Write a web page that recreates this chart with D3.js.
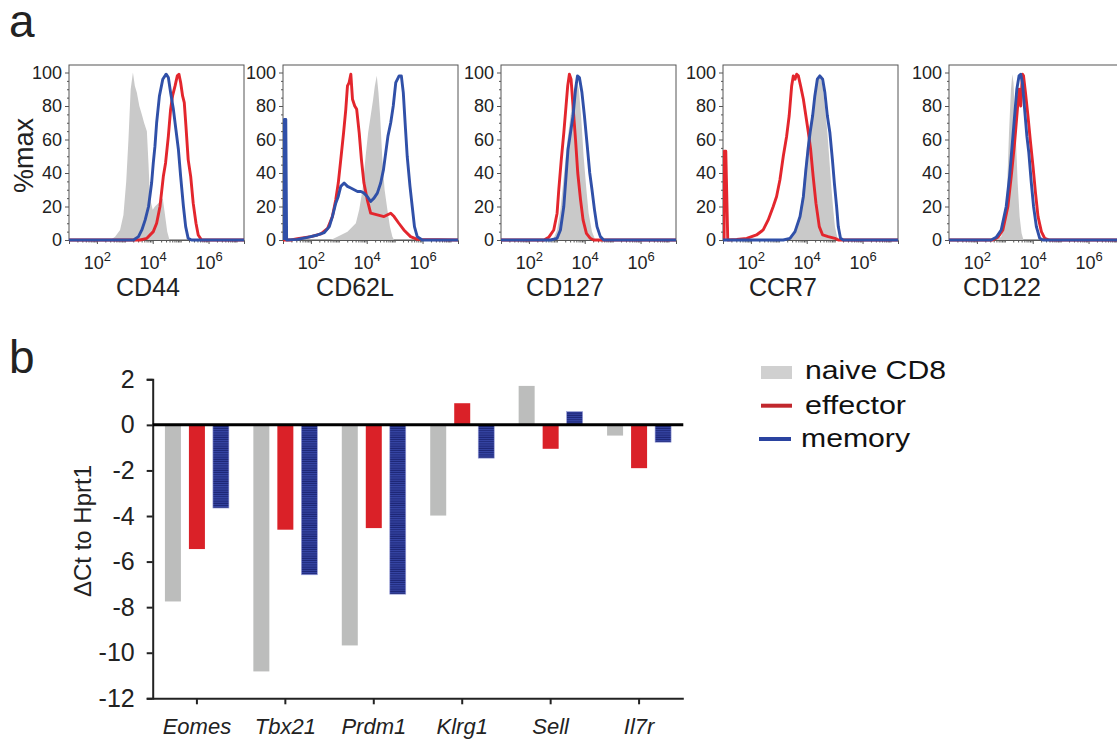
<!DOCTYPE html>
<html>
<head>
<meta charset="utf-8">
<script src="https://cdn.jsdelivr.net/npm/d3@7"></script>
<style>
  html, body { margin: 0; padding: 0; background: #fff; }
  svg { display: block; font-family: "Liberation Sans", Arial, sans-serif; }
</style>
</head>
<body>
<svg id="chart" width="1117" height="740"></svg>
<script>
// ---------------- DATA: panel a (flow histograms) ----------------
// each point: [log10 fluorescence intensity, % of max]
const markers = ["CD44", "CD62L", "CD127", "CCR7", "CD122"];
const histTickExponents = [2, 4, 6];
const histYTicks = [0, 20, 40, 60, 80, 100];

const cd44Naive = [[2.48,0],[2.65,2],[2.83,6],[2.95,15],[3.05,35],[3.13,60],[3.21,90],[3.29,100],[3.36,92],[3.43,88],[3.52,80],[3.61,75],[3.69,70],[3.79,65],[3.85,45],[3.90,25],[4.0,18],[4.08,20],[4.20,22],[4.36,25],[4.44,15],[4.52,5],[4.60,0]];
const cd44Effector = [[1.0,0],[3.55,0],[3.79,1],[4.02,5],[4.14,10],[4.26,20],[4.38,38],[4.46,46],[4.56,62],[4.64,78],[4.71,86],[4.80,92],[4.88,98],[4.94,99],[5.0,94],[5.07,86],[5.13,82],[5.19,68],[5.27,48],[5.36,38],[5.45,22],[5.55,10],[5.63,3],[5.75,0],[7.3,0]];
const cd44Memory = [[1.0,0],[3.31,0],[3.49,2],[3.61,6],[3.73,12],[3.85,20],[3.96,34],[4.02,46],[4.08,56],[4.14,70],[4.24,86],[4.36,96],[4.48,99],[4.56,97],[4.64,88],[4.74,78],[4.83,66],[4.92,54],[5.0,38],[5.10,20],[5.18,8],[5.27,1],[5.39,0],[7.3,0]];

const cd62lNaive = [[2.71,0],[2.95,2],[3.31,5],[3.61,10],[3.73,18],[3.85,30],[3.96,50],[4.05,64],[4.14,74],[4.23,84],[4.29,92],[4.36,98],[4.42,88],[4.48,74],[4.56,48],[4.64,30],[4.74,18],[4.83,8],[4.92,2],[4.98,0]];
const cd62lEffector = [[1.0,0],[1.29,0],[1.52,0.8],[2.0,2],[2.36,3.6],[2.6,7],[2.77,14],[2.89,24],[2.98,34],[3.07,48],[3.17,64],[3.25,78],[3.31,92],[3.37,94],[3.43,99],[3.49,84],[3.57,80],[3.64,78],[3.73,64],[3.81,48],[3.9,34],[4.02,24],[4.14,16],[4.38,15],[4.62,14],[4.86,16],[4.98,14],[5.15,10],[5.33,6],[5.57,2],[5.81,0.4],[7.3,0]];
const cd62lMemory = [[1.04,0],[1.05,72],[1.1,72],[1.13,0],[1.52,0.4],[1.88,1.6],[2.24,3],[2.48,4.4],[2.66,8],[2.77,14],[2.89,22],[2.98,26],[3.07,32],[3.19,34],[3.31,32],[3.43,31],[3.55,30],[3.67,29],[3.79,29],[3.9,28],[4.02,26],[4.14,23],[4.26,25],[4.38,28],[4.5,34],[4.6,42],[4.68,52],[4.76,62],[4.86,70],[4.95,80],[5.04,94],[5.16,98],[5.24,98],[5.31,88],[5.39,66],[5.45,50],[5.55,32],[5.63,20],[5.71,8],[5.81,2],[5.99,0],[7.3,0]];

const cd127Naive = [[2.66,0],[2.89,1],[3.01,6],[3.13,18],[3.25,38],[3.37,58],[3.49,74],[3.58,84],[3.67,92],[3.73,94],[3.79,90],[3.87,74],[3.96,50],[4.06,30],[4.14,16],[4.26,5],[4.38,0]];
const cd127Effector = [[1.0,0],[2.54,0],[2.71,1.6],[2.89,6],[3.01,16],[3.07,30],[3.16,48],[3.25,64],[3.33,80],[3.39,92],[3.45,99],[3.51,96],[3.58,80],[3.67,60],[3.75,40],[3.85,24],[3.94,12],[4.06,4],[4.2,1],[4.32,0],[7.3,0]];
const cd127Memory = [[1.0,0],[2.77,0],[3.01,1],[3.13,6],[3.25,20],[3.33,38],[3.4,54],[3.49,64],[3.58,74],[3.67,90],[3.74,98],[3.81,97],[3.9,88],[3.99,74],[4.08,58],[4.18,40],[4.26,30],[4.35,18],[4.44,8],[4.56,2],[4.68,0],[7.3,0]];

const ccr7Naive = [[3.28,0],[3.52,4],[3.70,12],[3.82,24],[3.94,44],[4.02,58],[4.12,68],[4.21,78],[4.29,88],[4.38,96],[4.47,98],[4.57,92],[4.65,80],[4.74,64],[4.81,48],[4.89,30],[4.95,18],[5.01,8],[5.09,2],[5.17,0]];
const ccr7Effector = [[1.04,0],[1.05,53],[1.1,53],[1.17,0],[1.49,0.4],[1.85,1],[2.2,3],[2.44,6],[2.62,12],[2.8,20],[2.92,26],[3.04,36],[3.16,50],[3.28,62],[3.37,74],[3.46,92],[3.52,98],[3.58,96],[3.64,99],[3.7,98],[3.78,92],[3.88,84],[3.97,74],[4.06,64],[4.14,54],[4.23,38],[4.33,22],[4.45,8],[4.57,3],[4.77,2],[5.01,1],[5.13,0],[7.3,0]];
const ccr7Memory = [[1.0,0],[3.16,0],[3.40,1],[3.58,5],[3.76,14],[3.88,26],[3.97,42],[4.06,56],[4.12,64],[4.21,74],[4.29,86],[4.38,96],[4.47,98],[4.57,96],[4.65,88],[4.74,74],[4.83,64],[4.92,48],[4.99,34],[5.07,20],[5.13,8],[5.21,1],[5.31,0],[7.3,0]];

const cd122Naive = [[2.69,0],[2.87,2],[2.99,10],[3.08,30],[3.15,64],[3.22,90],[3.27,99],[3.31,94],[3.39,64],[3.46,34],[3.53,14],[3.6,4],[3.67,0]];
const cd122Effector = [[1.0,0],[2.57,0],[2.75,1.6],[2.93,6],[3.11,20],[3.23,38],[3.35,58],[3.43,74],[3.51,90],[3.57,80],[3.63,99],[3.67,98],[3.74,88],[3.83,74],[3.91,60],[4.01,44],[4.10,28],[4.19,14],[4.31,5],[4.43,1],[4.6,0],[7.3,0]];
const cd122Memory = [[1.0,0],[2.51,0],[2.69,1.6],[2.87,6],[3.05,20],[3.17,38],[3.27,58],[3.35,74],[3.43,90],[3.51,98],[3.57,99],[3.63,94],[3.71,78],[3.79,62],[3.86,52],[3.95,34],[4.03,20],[4.13,8],[4.25,1],[4.37,0],[7.3,0]];

// ---------------- DATA: panel b (qPCR) ----------------
const genes = ["Eomes", "Tbx21", "Prdm1", "Klrg1", "Sell", "Il7r"];
const groups = ["naive CD8", "effector", "memory"];
const naiveCt = [-7.75, -10.82, -9.68, -3.98, 1.71, -0.47];
const effectorCt = [-5.45, -4.6, -4.53, 0.95, -1.05, -1.9];
const memoryCt = [-3.65, -6.58, -7.43, -1.46, 0.58, -0.76];
const ctTicks = [2, 0, -2, -4, -6, -8, -10, -12];

// ---------------- LAYOUT ----------------
const FONT = "Liberation Sans, Arial, sans-serif";
const svg = d3.select("#chart");
const COL = { gray: "#c9c9c9", red: "#e3262d", blue: "#3050a8",
              barGray: "#bcbdbc", barRed: "#da2128" };

const defs = svg.append("defs");
const pat = defs.append("pattern").attr("id", "stripes")
  .attr("patternUnits", "userSpaceOnUse").attr("width", 4).attr("height", 2.2);
pat.append("rect").attr("width", 4).attr("height", 2.2).attr("fill", "#3746a6");
pat.append("rect").attr("y", 1.2).attr("width", 4).attr("height", 1).attr("fill", "#1b2472");

// panel letters
svg.append("text").attr("x", 9).attr("y", 37).attr("font-size", 46).attr("fill", "#222").text("a");
svg.append("text").attr("x", 9).attr("y", 373).attr("font-size", 46).attr("fill", "#222").text("b");

// ---- panel a ----
const panelLeft = [69, 283, 501, 723, 949];
const labelCenter = [148, 355, 565, 783, 1002];
const pW = 175, yTop = 65;
const histData = [
  [cd44Naive, cd44Effector, cd44Memory],
  [cd62lNaive, cd62lEffector, cd62lMemory],
  [cd127Naive, cd127Effector, cd127Memory],
  [ccr7Naive, ccr7Effector, ccr7Memory],
  [cd122Naive, cd122Effector, cd122Memory]
];
const yH = d3.scaleLinear().domain([0, 100]).range([240, 72.5]);

markers.forEach((m, i) => {
  const g = svg.append("g").attr("transform", `translate(${panelLeft[i]},0)`);
  const x = d3.scaleLog().domain([Math.pow(10, 1.0), Math.pow(10, 7.27)]).range([0, pW]);
  const clipId = "clip" + i;
  defs.append("clipPath").attr("id", clipId).append("rect")
    .attr("x", panelLeft[i]).attr("y", yTop).attr("width", pW).attr("height", 240 - yTop + 2);
  const plot = svg.append("g").attr("clip-path", `url(#${clipId})`)
    .append("g").attr("transform", `translate(${panelLeft[i]},0)`);

  const [nv, ef, me] = histData[i];
  const area = d3.area().x(d => x(Math.pow(10, d[0]))).y0(yH(0)).y1(d => yH(d[1]));
  const line = d3.line().x(d => x(Math.pow(10, d[0]))).y(d => yH(d[1]));
  plot.append("path").datum(nv).attr("d", area).attr("fill", COL.gray);
  plot.append("path").datum(ef).attr("d", line).attr("fill", "none")
    .attr("stroke", COL.red).attr("stroke-width", 2.9).attr("stroke-linejoin", "round");
  plot.append("path").datum(me).attr("d", line).attr("fill", "none")
    .attr("stroke", COL.blue).attr("stroke-width", 2.9).attr("stroke-linejoin", "round");

  // frame
  g.append("rect").attr("x", 0).attr("y", yTop).attr("width", pW).attr("height", 240 - yTop)
    .attr("fill", "none").attr("stroke", "#555").attr("stroke-width", 1);

  // x axis: minor ticks
  const minor = [];
  for (let e = 1; e <= 7; e++) for (let k = 1; k <= 9; k++) {
    const v = k * Math.pow(10, e);
    if (v <= Math.pow(10, 7.27) && !(k === 1 && histTickExponents.includes(e))) minor.push(v);
  }
  g.append("g").attr("transform", "translate(0,240)")
    .call(d3.axisBottom(x).tickValues(minor).tickSize(2.5).tickFormat(""))
    .call(a => a.select(".domain").remove())
    .call(a => a.selectAll("line").attr("stroke", "#555"));
  const xa = g.append("g").attr("transform", "translate(0,240)")
    .call(d3.axisBottom(x).tickValues(histTickExponents.map(e => Math.pow(10, e))).tickSize(4).tickFormat(""))
    .call(a => a.select(".domain").attr("stroke", "#555"))
    .call(a => a.selectAll("line").attr("stroke", "#555"));
  xa.selectAll(".tick text").each(function(d) {
    const t = d3.select(this).attr("font-size", 18).attr("fill", "#222")
      .attr("font-family", FONT).attr("y", 29).attr("dy", 0);
    t.append("tspan").text("10");
    t.append("tspan").attr("dy", -8).attr("font-size", 13).text(String(Math.round(Math.log10(d))));
  });

  // y axis
  g.append("g")
    .call(d3.axisLeft(yH).tickValues(d3.range(0, 101, 5).filter(v => v % 20 !== 0)).tickSize(2).tickFormat(""))
    .call(a => a.select(".domain").remove())
    .call(a => a.selectAll("line").attr("stroke", "#555"));
  g.append("g")
    .call(d3.axisLeft(yH).tickValues(histYTicks).tickSize(4).tickPadding(3))
    .call(a => a.select(".domain").remove())
    .call(a => a.selectAll("line").attr("stroke", "#555"))
    .call(a => a.selectAll("text").attr("font-size", 18).attr("fill", "#222").attr("font-family", FONT));

  svg.append("text").attr("x", labelCenter[i]).attr("y", 296).attr("text-anchor", "middle")
    .attr("font-size", 25).attr("fill", "#222").text(m);
});

svg.append("text").attr("transform", "translate(33,155.5) rotate(-90)").attr("text-anchor", "middle")
  .attr("font-size", 27).attr("fill", "#222").text("%max");

// ---- panel b ----
const bx = d3.scaleBand().domain(genes).range([152.7, 683.3]).paddingInner(0).paddingOuter(0);
const sub = d3.scaleBand().domain(groups).range([-32, 32]).paddingInner(1 / 3).paddingOuter(0);
const by = d3.scaleLinear().domain([-12, 2]).range([698.3, 379.3]);

const seriesVals = [naiveCt, effectorCt, memoryCt];
const barFill = [COL.barGray, COL.barRed, "url(#stripes)"];
groups.forEach((gname, si) => {
  svg.append("g").selectAll("rect").data(genes.map((gene, gi) => ({ gene, v: seriesVals[si][gi] })))
    .join("rect")
    .attr("x", d => bx(d.gene) + bx.bandwidth() / 2 + sub(gname))
    .attr("width", sub.bandwidth())
    .attr("y", d => by(Math.max(0, d.v)))
    .attr("height", d => Math.abs(by(d.v) - by(0)))
    .attr("fill", barFill[si])
    .attr("stroke", si === 2 ? "#9aa0d8" : "none").attr("stroke-width", 0.6);
});

// y axis
svg.append("g").attr("transform", "translate(152.7,0)")
  .call(d3.axisLeft(by).tickValues(ctTicks).tickSize(6).tickPadding(12).tickFormat(d => String(d)))
  .call(a => a.select(".domain").attr("stroke", "#222").attr("stroke-width", 2))
  .call(a => a.selectAll("line").attr("stroke", "#222").attr("stroke-width", 2))
  .call(a => a.selectAll("text").attr("font-size", 25).attr("fill", "#222").attr("font-family", FONT));

// x axis
svg.append("g").attr("transform", "translate(0,698.3)")
  .call(d3.axisBottom(bx).tickSize(6).tickPadding(14).tickSizeOuter(0))
  .call(a => a.select(".domain").attr("stroke", "#222").attr("stroke-width", 2))
  .call(a => a.selectAll("line").attr("stroke", "#222").attr("stroke-width", 2))
  .call(a => a.selectAll("text").attr("font-size", 22).attr("font-style", "italic").attr("fill", "#222")
    .attr("font-family", FONT));

// zero line
svg.append("line").attr("x1", 152.7).attr("x2", 683.3).attr("y1", by(0)).attr("y2", by(0))
  .attr("stroke", "#000").attr("stroke-width", 3);

svg.append("text").attr("transform", "translate(91,531) rotate(-90)").attr("text-anchor", "middle")
  .attr("font-size", 24).attr("fill", "#222").text("ΔCt to Hprt1");

// legend
const lg = svg.append("g");
lg.append("rect").attr("x", 761).attr("y", 366).attr("width", 31).attr("height", 13).attr("fill", "#d0d0d0");
lg.append("line").attr("x1", 761).attr("x2", 792).attr("y1", 405.7).attr("y2", 405.7)
  .attr("stroke", "#c1272d").attr("stroke-width", 4);
lg.append("line").attr("x1", 759).attr("x2", 791).attr("y1", 439).attr("y2", 439)
  .attr("stroke", "#2a43a0").attr("stroke-width", 4);
const legendX = [805, 805, 801], legendY = [379, 414, 447], legendLen = [141, 101, 109];
groups.forEach((gname, i) => {
  lg.append("text").attr("x", legendX[i]).attr("y", legendY[i]).attr("font-size", 26)
    .attr("textLength", legendLen[i]).attr("lengthAdjust", "spacingAndGlyphs")
    .attr("fill", "#111").text(gname);
});
</script>
</body>
</html>
